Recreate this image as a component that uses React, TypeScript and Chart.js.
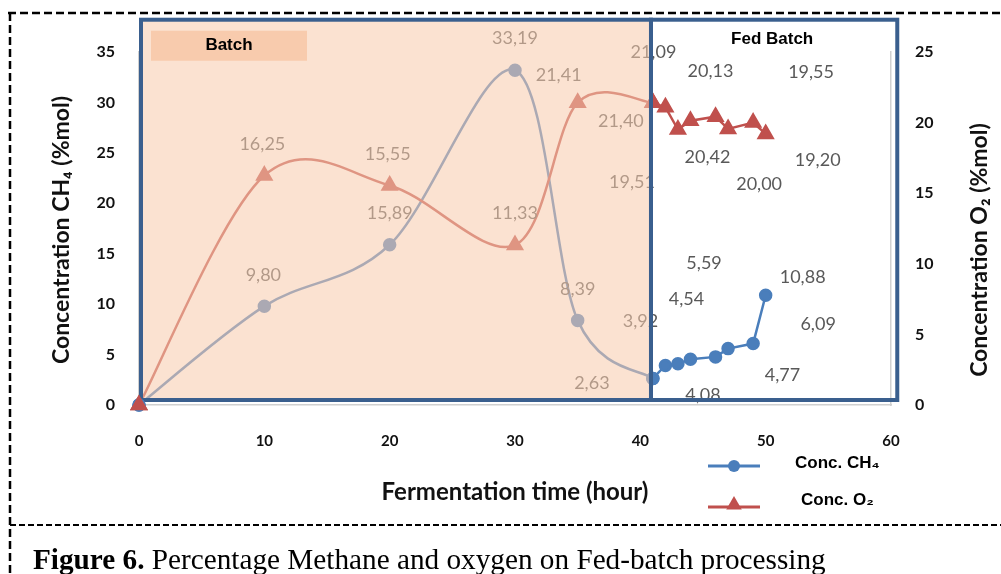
import React, { useEffect, useRef } from "react";
import { Chart, registerables } from "chart.js";

Chart.register(...registerables);

// ---------------- data ----------------
const X_TICKS = [0, 10, 20, 30, 40, 50, 60];
const CH4_TICKS = [0, 5, 10, 15, 20, 25, 30, 35];
const O2_TICKS = [0, 5, 10, 15, 20, 25];

const TIME_BATCH = [0, 10, 20, 30, 35, 41];
const CH4_BATCH = [0, 9.8, 15.89, 33.19, 8.39, 2.63];
const O2_BATCH = [0, 16.25, 15.55, 11.33, 21.41, 21.4];

const TIME_FED = [41, 42, 43, 44, 46, 47, 49, 50];
const CH4_FED = [2.63, 3.92, 4.08, 4.54, 4.77, 5.59, 6.09, 10.88];
const O2_FED = [21.4, 21.09, 19.51, 20.13, 20.42, 19.55, 20.0, 19.2];

const PHASE_NAMES = ["Batch", "Fed Batch"];
const PHASE_BOUNDS = [0, 40.85, 60.5]; // hours

const TITLE_X = "Fermentation time (hour)";
const TITLE_Y_LEFT = "Concentration CH\u2084 (%mol)";
const TITLE_Y_RIGHT = "Concentration O\u2082 (%mol)";
const LEGEND_CH4 = "Conc. CH\u2084";
const LEGEND_O2 = "Conc. O\u2082";
const CAPTION_BOLD = "Figure 6.";
const CAPTION_TEXT = " Percentage Methane and oxygen on Fed-batch processing";

// ---------------- styling ----------------
const BLUE = "#4A7EBB";
const RED = "#C0504D";
const BOX_BLUE = "#3A5F8E";
const OVERLAY = "rgba(248,203,173,0.56)";
const BATCH_TAG = "#F8CBAD";
const LABEL_COLOR = "#595959";
const BOX_TOP_CH4 = 38.2; // top of phase boxes in CH4 units

// data-label offsets (px) relative to each point
const OFF_CH4_BATCH: (number[] | null)[] = [null, [-1, -31], [0, -32], [0, -32], [0, -31], [-61, 5]];
const OFF_CH4_FED: (number[] | null)[] = [null, [-25, -44], [25, 31], [-4, -60], [67, 18], [-24, -85], [65, -19], [37, -18]];
const OFF_O2_BATCH: (number[] | null)[] = [null, [-2, -31], [-2, -31], [0, -32], [-19, -28], [-32, 18]];
const OFF_O2_FED: (number[] | null)[] = [null, [-12, -55], [-46, 53], [20, -50], [-8, 41], [83, -57], [6, 62], [52, 26]];

const fmt = (v: number) => v.toFixed(2).replace(".", ",");

const pts = (xs: number[], ys: number[]) => xs.map((x, i) => ({ x, y: ys[i] }));

const LABEL_SETS = [
  { ds: 0, off: OFF_O2_BATCH },
  { ds: 1, off: OFF_O2_FED },
  { ds: 2, off: OFF_CH4_BATCH },
  { ds: 3, off: OFF_CH4_FED },
];

function drawTriangle(ctx: CanvasRenderingContext2D, x: number, y: number, r: number) {
  ctx.beginPath();
  for (let k = 0; k < 3; k++) {
    const a = (k * 2 * Math.PI) / 3;
    const px = x + Math.sin(a) * r;
    const py = y - Math.cos(a) * r;
    if (k === 0) ctx.moveTo(px, py);
    else ctx.lineTo(px, py);
  }
  ctx.closePath();
  ctx.fill();
}

const figurePlugin = {
  id: "figure",
  // Excel-style (Catmull-Rom) smoothing for the batch curves
  beforeDatasetsDraw(chart: any) {
    chart.data.datasets.forEach((ds: any, di: number) => {
      if (!ds.excelSmooth) return;
      const meta = chart.getDatasetMeta(di);
      const p = meta.data;
      for (let i = 0; i < p.length; i++) {
        const prev = p[i - 1] || p[i];
        const next = p[i + 1] || p[i];
        const dx = (next.x - prev.x) / 6;
        const dy = (next.y - prev.y) / 6;
        p[i].cp1x = p[i].x - dx;
        p[i].cp1y = p[i].y - dy;
        p[i].cp2x = p[i].x + dx;
        p[i].cp2y = p[i].y + dy;
      }
      if (meta.dataset) {
        meta.dataset._pointsUpdated = true;
        meta.dataset._path = undefined;
      }
    });
  },
  afterDatasetsDraw(chart: any) {
    const ctx: CanvasRenderingContext2D = chart.ctx;
    const xs = chart.scales.x;
    const ys = chart.scales.y;

    // data labels
    ctx.save();
    ctx.font = "18px Lato";
    ctx.fillStyle = LABEL_COLOR;
    ctx.textAlign = "center";
    ctx.textBaseline = "middle";
    LABEL_SETS.forEach(({ ds, off }) => {
      const meta = chart.getDatasetMeta(ds);
      meta.data.forEach((el: any, i: number) => {
        const o = off[i];
        if (!o) return;
        const v = chart.data.datasets[ds].data[i].y;
        ctx.fillText(fmt(v), el.x + o[0], el.y + o[1]);
      });
    });
    ctx.restore();

    // phase boxes
    const bx0 = xs.getPixelForValue(PHASE_BOUNDS[0]) + 2;
    const bx1 = xs.getPixelForValue(PHASE_BOUNDS[1]);
    const bx2 = xs.getPixelForValue(PHASE_BOUNDS[2]);
    const top = ys.getPixelForValue(BOX_TOP_CH4);
    const bottom = ys.getPixelForValue(0) - 5;

    ctx.save();
    ctx.fillStyle = OVERLAY;
    ctx.fillRect(bx0, top, bx1 - bx0, bottom - top);
    ctx.strokeStyle = BOX_BLUE;
    ctx.lineWidth = 4;
    ctx.strokeRect(bx0, top, bx1 - bx0, bottom - top);
    ctx.strokeRect(bx1, top, bx2 - bx1, bottom - top);

    // batch tag
    ctx.fillStyle = BATCH_TAG;
    ctx.fillRect(bx0 + 10, top + 11, 156, 30);
    ctx.fillStyle = "#000";
    ctx.font = "bold 17px 'Liberation Sans'";
    ctx.textAlign = "center";
    ctx.textBaseline = "middle";
    ctx.fillText(PHASE_NAMES[0], bx0 + 88, top + 26);
    ctx.fillText(PHASE_NAMES[1], (bx1 + bx2) / 2 - 2, top + 20);
    ctx.restore();

    // origin markers sit on top of the frame
    [2, 0].forEach((ds) => {
      const el = chart.getDatasetMeta(ds).data[0];
      if (el) el.draw(ctx, { left: -100, top: -100, right: 2000, bottom: 2000 });
    });
  },
  afterDraw(chart: any) {
    const ctx: CanvasRenderingContext2D = chart.ctx;
    const ca = chart.chartArea;
    ctx.save();
    ctx.fillStyle = "#111";
    ctx.textAlign = "center";
    ctx.textBaseline = "middle";
    // x title
    ctx.font = "bold 24px Lato";
    ctx.fillText(TITLE_X, (ca.left + ca.right) / 2, 492);
    // left title
    ctx.font = "bold 23px Lato";
    ctx.save();
    ctx.translate(62, 230);
    ctx.rotate(-Math.PI / 2);
    ctx.fillText(TITLE_Y_LEFT, 0, 0);
    ctx.restore();
    // right title
    ctx.save();
    ctx.translate(980, 250);
    ctx.rotate(-Math.PI / 2);
    ctx.fillText(TITLE_Y_RIGHT, 0, 0);
    ctx.restore();

    // legend
    ctx.lineWidth = 3;
    ctx.strokeStyle = BLUE;
    ctx.beginPath();
    ctx.moveTo(708, 466);
    ctx.lineTo(760, 466);
    ctx.stroke();
    ctx.fillStyle = BLUE;
    ctx.beginPath();
    ctx.arc(734, 466, 6, 0, Math.PI * 2);
    ctx.fill();
    ctx.strokeStyle = RED;
    ctx.beginPath();
    ctx.moveTo(708, 507);
    ctx.lineTo(760, 507);
    ctx.stroke();
    ctx.fillStyle = RED;
    drawTriangle(ctx, 734, 505, 9);

    ctx.fillStyle = "#000";
    ctx.font = "bold 17px 'Liberation Sans'";
    ctx.textAlign = "left";
    ctx.fillText(LEGEND_CH4, 795, 463);
    ctx.fillText(LEGEND_O2, 801, 500);

    // dashed frame
    ctx.strokeStyle = "#000";
    ctx.setLineDash([8, 4]);
    ctx.lineWidth = 2.5;
    ctx.beginPath();
    ctx.moveTo(8, 13);
    ctx.lineTo(1001, 13);
    ctx.moveTo(10, 13);
    ctx.lineTo(10, 574);
    ctx.stroke();
    ctx.setLineDash([6, 3]);
    ctx.lineWidth = 2;
    ctx.beginPath();
    ctx.moveTo(10, 525);
    ctx.lineTo(1001, 525);
    ctx.stroke();
    ctx.setLineDash([]);

    // caption
    const targetW = 793;
    let size = 26;
    ctx.font = `bold ${size}px 'Liberation Serif'`;
    let w = ctx.measureText(CAPTION_BOLD).width;
    ctx.font = `${size}px 'Liberation Serif'`;
    w += ctx.measureText(CAPTION_TEXT).width;
    size = (size * targetW) / w;
    ctx.textBaseline = "alphabetic";
    ctx.font = `bold ${size}px 'Liberation Serif'`;
    ctx.fillText(CAPTION_BOLD, 33, 569);
    const bw = ctx.measureText(CAPTION_BOLD).width;
    ctx.font = `${size}px 'Liberation Serif'`;
    ctx.fillText(CAPTION_TEXT, 33 + bw, 569);
    ctx.restore();
  },
};

const tickFont = { family: "Lato", weight: "bold" as const, size: 16 };

export default function App() {
  const ref = useRef<HTMLCanvasElement>(null);
  useEffect(() => {
    if (!ref.current) return;
    const chart = new Chart(ref.current, {
      type: "line",
      data: {
        datasets: [
          {
            label: "O2 batch",
            data: pts(TIME_BATCH, O2_BATCH),
            yAxisID: "y1",
            borderColor: RED,
            backgroundColor: RED,
            pointBackgroundColor: RED,
            pointBorderColor: RED,
            pointStyle: "triangle",
            pointRadius: 8,
            borderWidth: 2.5,
            tension: 0.4,
            excelSmooth: true,
            clip: false,
          },
          {
            label: "Conc. O2",
            data: pts(TIME_FED, O2_FED),
            yAxisID: "y1",
            borderColor: RED,
            backgroundColor: RED,
            pointBackgroundColor: RED,
            pointBorderColor: RED,
            pointStyle: "triangle",
            pointRadius: 8,
            borderWidth: 2.5,
            tension: 0,
            clip: false,
          },
          {
            label: "CH4 batch",
            data: pts(TIME_BATCH, CH4_BATCH),
            yAxisID: "y",
            borderColor: BLUE,
            backgroundColor: BLUE,
            pointBackgroundColor: BLUE,
            pointBorderColor: BLUE,
            pointStyle: "circle",
            pointRadius: 5.5,
            borderWidth: 2.5,
            tension: 0.4,
            excelSmooth: true,
            clip: false,
          },
          {
            label: "Conc. CH4",
            data: pts(TIME_FED, CH4_FED),
            yAxisID: "y",
            borderColor: BLUE,
            backgroundColor: BLUE,
            pointBackgroundColor: BLUE,
            pointBorderColor: BLUE,
            pointStyle: "circle",
            pointRadius: 5.5,
            borderWidth: 2.5,
            tension: 0,
            clip: false,
          },
        ] as any,
      },
      options: {
        responsive: false,
        maintainAspectRatio: false,
        animation: false,
        devicePixelRatio: 1,
        events: [],
        layout: { padding: { top: 52, left: 0, right: 0, bottom: 0 } },
        plugins: { legend: { display: false }, tooltip: { enabled: false }, title: { display: false } },
        scales: {
          x: {
            type: "linear",
            min: 0,
            max: 60,
            afterBuildTicks: (s: any) => {
              s.ticks = X_TICKS.map((v) => ({ value: v }));
            },
            afterFit: (s: any) => {
              s.height = 169;
            },
            grid: { display: false, drawTicks: false },
            border: { display: true, color: "#D0D0D0", width: 1.5 },
            ticks: { padding: 27, color: "#111", font: { ...tickFont, size: 15 }, maxRotation: 0 },
          },
          y: {
            position: "left",
            min: 0,
            max: 35,
            afterBuildTicks: (s: any) => {
              s.ticks = CH4_TICKS.map((v) => ({ value: v }));
            },
            afterFit: (s: any) => {
              s.width = 139;
            },
            grid: { display: false, drawTicks: false },
            border: { display: true, color: "#D0D0D0", width: 1.5 },
            ticks: { padding: 24, color: "#111", font: tickFont },
          },
          y1: {
            position: "right",
            min: 0,
            max: 25,
            afterBuildTicks: (s: any) => {
              s.ticks = O2_TICKS.map((v) => ({ value: v }));
            },
            afterFit: (s: any) => {
              s.width = 110;
            },
            grid: { display: false, drawTicks: false },
            border: { display: true, color: "#D0D0D0", width: 1.5 },
            ticks: { padding: 24, color: "#111", font: tickFont },
          },
        },
      } as any,
      plugins: [figurePlugin],
    });
    return () => chart.destroy();
  }, []);

  return (
    <div style={{ position: "fixed", left: 0, top: 0, width: 1001, height: 574, background: "#fff" }}>
      <canvas ref={ref} width={1001} height={574} style={{ display: "block", width: 1001, height: 574 }} />
    </div>
  );
}
